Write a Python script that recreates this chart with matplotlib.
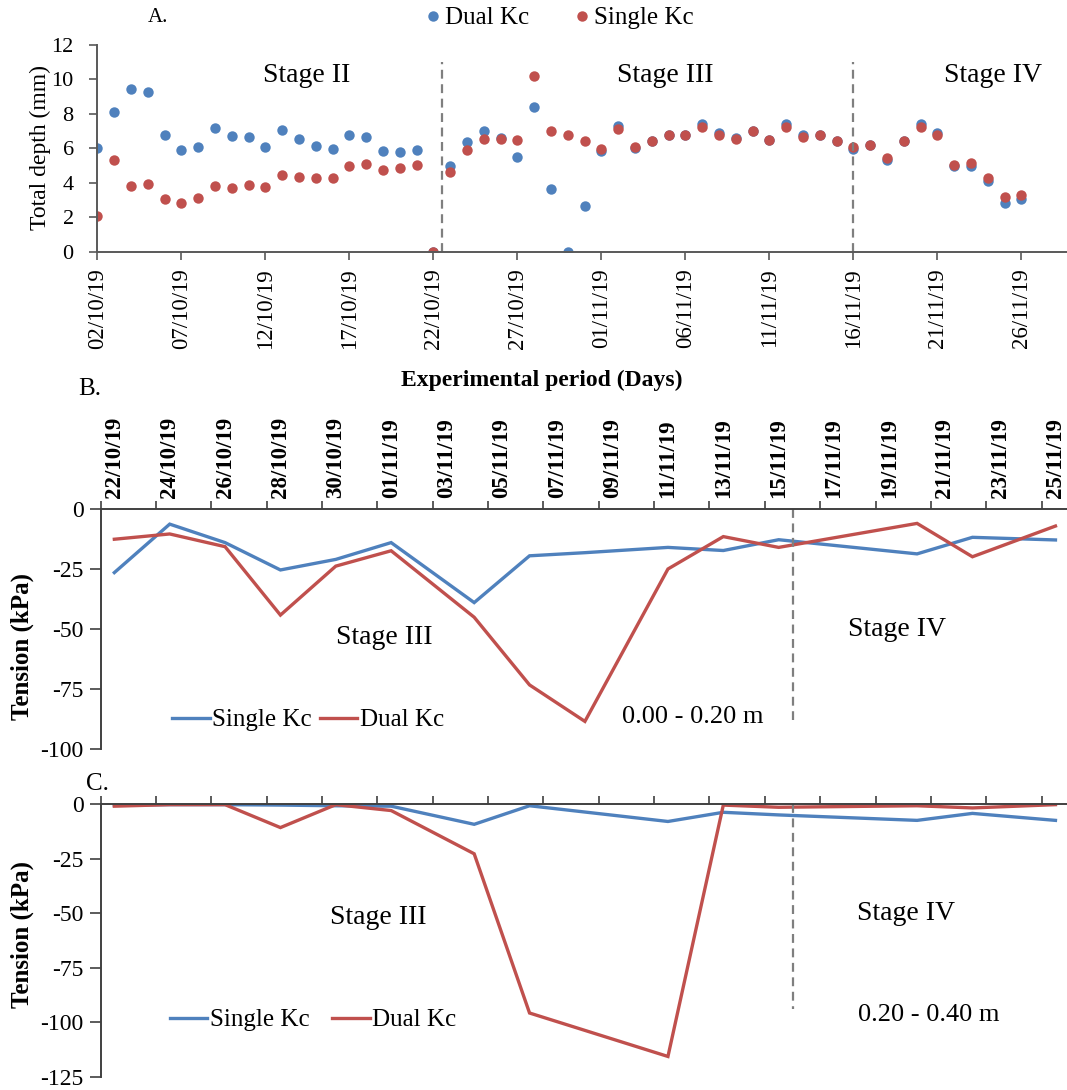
import matplotlib
matplotlib.use("Agg")
import matplotlib.pyplot as plt
import matplotlib.dates as mdates
import pandas as pd

plt.rcParams['font.family'] = ['Liberation Serif', 'DejaVu Serif']

# ---- Panel A: daily total depth (mm) ----
dates_a = pd.date_range('2019-10-02', '2019-11-26', freq='D')
dual_a = [6.0, 8.1, 9.45, 9.3, 6.75, 5.9, 6.1, 7.2, 6.7, 6.65, 6.1, 7.05, 6.55, 6.15, 5.95,
          6.75, 6.65, 5.85, 5.8, 5.9, 0.0,
          5.0, 6.35, 7.0, 6.6, 5.5, 8.4, 3.65, 0.0, 2.65,
          5.85, 7.3, 6.0, 6.45, 6.75, 6.75, 7.4, 6.9, 6.6,
          7.0, 6.5, 7.4, 6.75, 6.8, 6.45, 5.95, 6.2, 5.35, 6.45, 7.4, 6.9, 4.95, 5.0,
          4.1, 2.85, 3.05]
single_a = [2.1, 5.35, 3.8, 3.95, 3.05, 2.85, 3.1, 3.8, 3.7, 3.85, 3.75, 4.45, 4.35, 4.25, 4.25,
            5.0, 5.1, 4.75, 4.85, 5.05, 0.0,
            4.65, 5.9, 6.55, 6.55, 6.5, 10.2, 7.0, 6.8, 6.4,
            5.95, 7.15, 6.1, 6.4, 6.75, 6.75, 7.25, 6.8, 6.55,
            7.0, 6.5, 7.25, 6.65, 6.8, 6.45, 6.1, 6.2, 5.45, 6.45, 7.25, 6.75, 5.05, 5.15,
            4.3, 3.2, 3.3]
stage_lines_a = ['2019-10-22 12:00', '2019-11-16']

# ---- Panel B: tension 0.00 - 0.20 m (kPa) ----
dates_b = pd.to_datetime(['2019-10-22', '2019-10-24', '2019-10-26', '2019-10-28', '2019-10-30',
                          '2019-11-01', '2019-11-04', '2019-11-06', '2019-11-08', '2019-11-11',
                          '2019-11-13', '2019-11-15', '2019-11-20', '2019-11-22', '2019-11-25'])
single_b = [-26.5, -6.3, -14.0, -25.4, -21.0, -14.0, -39.0, -19.5, -18.2, -16.0,
            -17.3, -12.8, -18.7, -11.8, -12.9]
dual_b = [-12.6, -10.4, -15.7, -44.2, -23.8, -17.4, -45.1, -73.3, -88.5, -25.0,
          -11.5, -16.0, -6.0, -19.9, -7.1]

# ---- Panel C: tension 0.20 - 0.40 m (kPa) ----
dates_c = pd.to_datetime(['2019-10-22', '2019-10-24', '2019-10-26', '2019-10-28', '2019-10-30',
                          '2019-11-01', '2019-11-04', '2019-11-06', '2019-11-11',
                          '2019-11-13', '2019-11-15', '2019-11-20', '2019-11-22', '2019-11-25'])
single_c = [-0.5, -0.3, -0.3, -0.5, -0.8, -1.0, -9.3, -0.8, -8.0, -3.8, -5.0, -7.5, -4.3, -7.5]
dual_c = [-1.0, -0.3, -0.3, -10.8, -0.3, -3.0, -22.8, -95.7, -115.6, -0.5, -1.5, -0.8, -1.8, -0.3]

tension_ticks_b = [0, -25, -50, -75, -100]
tension_ticks_c = [0, -25, -50, -75, -100, -125]
stage_line_bc = '2019-11-15 12:00'

BLUE = '#4F81BD'
RED = '#C0504D'
SPINE = '#595959'
W, H = 1067, 1090


def fx(x):
    return x / W


def fy(y):
    return 1 - y / H


fig = plt.figure(figsize=(W / 100, H / 100), dpi=100)

# ================= Panel A =================
axA = fig.add_axes([fx(97.3), fy(251.7), 1 - fx(97.3), (251.7 - 45) / H])
axA.plot(dates_a, dual_a, 'o', color=BLUE, markersize=7.5, markeredgewidth=0, label='Dual Kc')
axA.plot(dates_a, single_a, 'o', color=RED, markersize=7.5, markeredgewidth=0, label='Single Kc')
for d in stage_lines_a:
    axA.plot([pd.Timestamp(d)] * 2, [0, 11], color='#7f7f7f', ls=(0, (4, 2.5)), lw=1.6)
axA.set_xlim(pd.Timestamp('2019-10-02'), pd.Timestamp('2019-11-28 17:00'))
axA.set_ylim(0, 12)
axA.set_yticks(range(0, 13, 2))
axA.set_xticks(pd.date_range('2019-10-02', '2019-11-26', freq='5D'))
axA.xaxis.set_major_formatter(mdates.DateFormatter('%d/%m/%y'))
axA.tick_params(axis='x', direction='out', length=6, width=1.2, color=SPINE,
                labelsize=16.5, rotation=90, pad=6)
axA.tick_params(axis='y', direction='out', length=6, width=1.2, color=SPINE,
                labelsize=16, pad=11)
for s in ['top', 'right']:
    axA.spines[s].set_visible(False)
for s in ['left', 'bottom']:
    axA.spines[s].set_color(SPINE)
    axA.spines[s].set_linewidth(1.4)
axA.legend(loc='center', bbox_to_anchor=(fx(557), fy(18)), bbox_transform=fig.transFigure,
           ncol=2, frameon=False, fontsize=18, handletextpad=0.0, columnspacing=1.6,
           markerscale=1.0, handlelength=1.0)

fig.text(fx(40), fy(147), 'Total depth (mm)', rotation=90, ha='center', va='center', fontsize=17)
fig.text(fx(148), fy(18), 'A.', ha='left', va='center', fontsize=15)
fig.text(fx(307), fy(75), 'Stage II', ha='center', va='center', fontsize=20)
fig.text(fx(665), fy(75), 'Stage III', ha='center', va='center', fontsize=20)
fig.text(fx(993), fy(75), 'Stage IV', ha='center', va='center', fontsize=20)
fig.text(fx(542), fy(380), 'Experimental period (Days)', ha='center', va='center',
         fontsize=17, fontweight='bold')


def tension_axes(rect, dates, single, dual, yticks, ylim):
    ax = fig.add_axes(rect)
    ax.plot(dates, single, color=BLUE, lw=2.4, label='Single Kc', solid_joinstyle='miter')
    ax.plot(dates, dual, color=RED, lw=2.4, label='Dual Kc', solid_joinstyle='miter')
    ax.set_xlim(pd.Timestamp('2019-10-21 12:00'), pd.Timestamp('2019-11-25 10:00'))
    ax.set_ylim(ylim, 0)
    ax.set_yticks(yticks)
    ax.set_yticklabels([str(v) for v in yticks])
    ax.xaxis.tick_top()
    major = pd.date_range('2019-10-22', '2019-11-25', freq='2D')
    ax.set_xticks(major)
    ax.set_xticks(major - pd.Timedelta(hours=12), minor=True)
    ax.tick_params(axis='x', which='major', length=0, pad=8)
    ax.tick_params(axis='x', which='minor', direction='out', length=6, width=1.2, color='#404040')
    ax.tick_params(axis='y', direction='out', length=8, width=1.2, color='#404040',
                   labelsize=17, pad=4)
    for s in ['bottom', 'right']:
        ax.spines[s].set_visible(False)
    for s in ['left', 'top']:
        ax.spines[s].set_color('#404040')
        ax.spines[s].set_linewidth(1.4)
    return ax


# ================= Panel B =================
axB = tension_axes([fx(100.5), fy(749), 1 - fx(100.5), (749 - 509) / H],
                   dates_b, single_b, dual_b, tension_ticks_b, -100)
axB.xaxis.set_major_formatter(mdates.DateFormatter('%d/%m/%y'))
for lab in axB.get_xticklabels():
    lab.set_rotation(90)
    lab.set_fontsize(16.5)
    lab.set_fontweight('bold')
axB.plot([pd.Timestamp(stage_line_bc)] * 2, [0, -88], color='#7f7f7f', ls=(0, (4, 2.5)), lw=1.6)
axB.legend(loc='center', bbox_to_anchor=(fx(308), fy(720)), bbox_transform=fig.transFigure,
           ncol=2, frameon=False, fontsize=18, handlelength=1.5, handletextpad=0.1,
           columnspacing=0.3)

# ================= Panel C =================
axC = tension_axes([fx(100.5), fy(1077), 1 - fx(100.5), (1077 - 804) / H],
                   dates_c, single_c, dual_c, tension_ticks_c, -125)
axC.set_xticklabels([])
axC.plot([pd.Timestamp(stage_line_bc)] * 2, [0, -94], color='#7f7f7f', ls=(0, (4, 2.5)), lw=1.6)
axC.legend(loc='center', bbox_to_anchor=(fx(313), fy(1020)), bbox_transform=fig.transFigure,
           ncol=2, frameon=False, fontsize=18, handlelength=1.5, handletextpad=0.1,
           columnspacing=0.9)

fig.text(fx(22), fy(647), 'Tension (kPa)', rotation=90, ha='center', va='center',
         fontsize=18, fontweight='bold')
fig.text(fx(22), fy(935), 'Tension (kPa)', rotation=90, ha='center', va='center',
         fontsize=18, fontweight='bold')
fig.text(fx(78), fy(389), 'B.', ha='left', va='center', fontsize=18)
fig.text(fx(86), fy(784), 'C.', ha='left', va='center', fontsize=18)
fig.text(fx(384), fy(637), 'Stage III', ha='center', va='center', fontsize=20)
fig.text(fx(897), fy(629), 'Stage IV', ha='center', va='center', fontsize=20)
fig.text(fx(693), fy(717), '0.00 - 0.20 m', ha='center', va='center', fontsize=19)
fig.text(fx(378), fy(918), 'Stage III', ha='center', va='center', fontsize=20)
fig.text(fx(906), fy(914), 'Stage IV', ha='center', va='center', fontsize=20)
fig.text(fx(929), fy(1015), '0.20 - 0.40 m', ha='center', va='center', fontsize=19)

fig.savefig('out.png', dpi=100)
